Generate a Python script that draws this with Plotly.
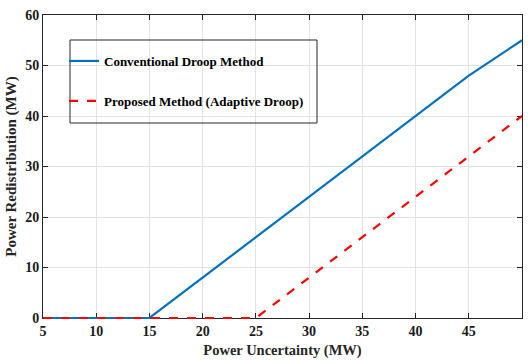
import plotly.graph_objects as go

x_conv = [5, 15, 45, 50]
y_conv = [0, 0, 48, 55]
x_prop = [5, 25, 50]
y_prop = [0, 0, 40]
x_ticks = [5, 10, 15, 20, 25, 30, 35, 40, 45, 50]
y_ticks = [0, 10, 20, 30, 40, 50, 60]
x_range = [5, 50]
y_range = [0, 60]

FONT = "Liberation Serif"
W, H = 528, 360
PAD = 4  # extra pixels around the frame so lines on the edges are not clipped
L, R, T, B = 43 - PAD, 6 - PAD, 15 - PAD, 42 - PAD

fw, fh = W - L - R, H - T - B          # full (padded) plot size
iw, ih = fw - 2 * PAD, fh - 2 * PAD    # inner frame size
dx = PAD * (x_range[1] - x_range[0]) / iw
dy = PAD * (y_range[1] - y_range[0]) / ih

fig = go.Figure()
# empty trace so the framed subplot (grid, ticks, titles) is created
fig.add_trace(go.Scatter(x=[], y=[], mode="lines", showlegend=False, hoverinfo="skip",
                         xaxis="x", yaxis="y"))
fig.add_trace(go.Scatter(x=x_conv, y=y_conv, mode="lines", name="Conventional Droop Method",
                         line=dict(color="#0072BD", width=2.2), legendgroup="a",
                         xaxis="x2", yaxis="y2"))
fig.add_trace(go.Scatter(x=x_prop, y=y_prop, mode="lines", name="Proposed Method (Adaptive Droop)",
                         line=dict(color="#FF0000", width=2.2, dash="dash"), legendgroup="b",
                         xaxis="x2", yaxis="y2"))

axis_common = dict(showline=True, linecolor="#262626", linewidth=1, mirror="ticks",
                   ticks="inside", ticklen=5, tickcolor="#262626",
                   showgrid=True, gridcolor="#E3E3E3", gridwidth=1, zeroline=False,
                   automargin=False, fixedrange=True,
                   tickfont=dict(family=FONT, size=14, color="#1a1a1a", weight="bold"))

fig.update_layout(
    xaxis=dict(range=x_range, tickvals=x_ticks, ticktext=[f"<b>{v}</b>" for v in x_ticks],
               domain=[PAD / fw, 1 - PAD / fw], anchor="y",
               title=dict(text="Power Uncertainty (MW)",
                          font=dict(family=FONT, size=14.5, color="#262626", weight="bold"), standoff=7),
               **axis_common),
    yaxis=dict(range=y_range, tickvals=y_ticks, ticktext=[f"<b>{v}</b>" for v in y_ticks],
               domain=[PAD / fh, 1 - PAD / fh], anchor="x",
               title=dict(text="Power Redistribution (MW)",
                          font=dict(family=FONT, size=15, color="#262626", weight="bold"), standoff=4),
               **axis_common),
    xaxis2=dict(range=[x_range[0] - dx, x_range[1] + dx], domain=[0, 1], anchor="y2",
                visible=False, showgrid=False, zeroline=False, fixedrange=True),
    yaxis2=dict(range=[y_range[0] - dy, y_range[1] + dy], domain=[0, 1], anchor="x2",
                visible=False, showgrid=False, zeroline=False, fixedrange=True),
)

def px_x(p):
    return (p - L) / fw
def px_y(p):
    return 1 - (p - T) / fh

fig.add_shape(type="rect", xref="paper", yref="paper",
              x0=px_x(70), x1=px_x(317), y0=px_y(123), y1=px_y(40),
              line=dict(color="#262626", width=1), fillcolor="rgba(0,0,0,0)", layer="above")

fig.update_layout(
    width=W, height=H,
    margin=dict(l=L, r=R, t=T, b=B),
    plot_bgcolor="rgba(0,0,0,0)", paper_bgcolor="white",
    showlegend=True,
    legend=dict(x=px_x(64), y=px_y(46), xanchor="left", yanchor="top",
                borderwidth=0, bgcolor="rgba(0,0,0,0)",
                font=dict(family=FONT, size=13, color="black", weight="bold"),
                tracegroupgap=20, traceorder="grouped", itemwidth=30),
)

fig.write_html("out.html", config={"displayModeBar": False},
               post_script="document.body.style.margin='0';document.body.style.overflow='hidden';")
